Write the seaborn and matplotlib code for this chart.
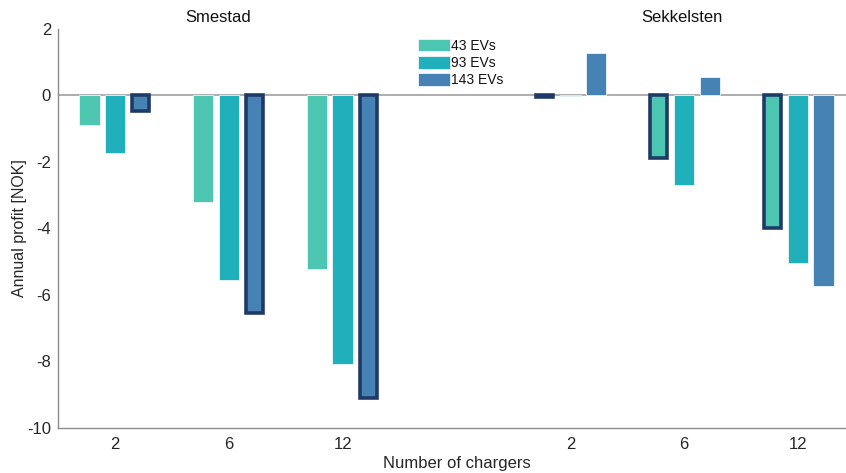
import matplotlib
matplotlib.use("Agg")
import matplotlib.pyplot as plt
import seaborn as sns
import pandas as pd

# Annual profit per site, number of chargers and EV fleet size
sites = ["Smestad"] * 9 + ["Sekkelsten"] * 9
chargers = [2, 2, 2, 6, 6, 6, 12, 12, 12] * 2
fleets = ["43 EVs", "93 EVs", "143 EVs"] * 6
profit = [-0.88, -1.73, -0.47,
          -3.22, -5.57, -6.55,
          -5.24, -8.10, -9.12,
          -0.06, -0.02, 1.28,
          -1.88, -2.70, 0.56,
          -4.00, -5.06, -5.75]
# best configuration per site and charger count
best = [False, False, True, False, False, True, False, False, True,
        True, False, False, True, False, False, True, False, False]

fleet_order = ["43 EVs", "93 EVs", "143 EVs"]
fleet_colors = ["#4cc6b1", "#20b0bc", "#4682b4"]
slot_order = ["Smestad 2", "Smestad 6", "Smestad 12", " ",
              "Sekkelsten 2", "Sekkelsten 6", "Sekkelsten 12"]
tick_labels = ["2", "6", "12", "", "2", "6", "12"]
site_titles = ["Smestad", "Sekkelsten"]

df = pd.DataFrame({
    "slot": [f"{s} {c}" for s, c in zip(sites, chargers)],
    "fleet": fleets,
    "profit": profit,
    "best": best,
})

sns.set_theme(style="white")
plt.rcParams["font.family"] = ["Liberation Sans", "DejaVu Sans"]
plt.rcParams["axes.unicode_minus"] = False

fig = plt.figure(figsize=(8.46, 4.73), dpi=100)
ax = fig.add_axes([58 / 846, (473 - 427.5) / 473, 797 / 846, 398.5 / 473])

ax.axhline(0, color="#a0a0a0", lw=1.2, zorder=0)

sns.barplot(data=df, x="slot", y="profit", hue="fleet", order=slot_order,
            hue_order=fleet_order, palette=fleet_colors, saturation=1,
            width=0.672, gap=0.2, edgecolor="#eef6f6", linewidth=0.6,
            errorbar=None, ax=ax, zorder=2)

# outline the best configurations
hl_lw = 3.6  # px
px_per_unit = 797 / 7.0
for _, row in df[df["best"]].iterrows():
    xi = slot_order.index(row["slot"])
    hi = fleet_order.index(row["fleet"])
    for p in ax.patches:
        cx = p.get_x() + p.get_width() / 2
        if abs(cx - (xi + (hi - 1) * 0.224)) < 0.05 and abs(p.get_height() - row["profit"]) < 1e-6:
            shrink = hl_lw / px_per_unit
            p.set_x(p.get_x() + shrink / 2)
            p.set_width(p.get_width() - shrink)
            p.set_edgecolor("#1f3a66")
            p.set_linewidth(hl_lw * 72 / 100)

ax.set_xlim(-0.5, 6.5)
ax.set_ylim(-10, 2)
ax.set_yticks([2, 0, -2, -4, -6, -8, -10])
ax.set_xticks([i for i, t in enumerate(tick_labels) if t])
ax.set_xticklabels([t for t in tick_labels if t])

for side in ["top", "right"]:
    ax.spines[side].set_visible(False)
for side in ["left", "bottom"]:
    ax.spines[side].set_color("#8c8c8c")
    ax.spines[side].set_linewidth(1.0)

ax.tick_params(axis="both", direction="in", length=5.5, width=0.8,
               color="#8c8c8c", labelsize=12, labelcolor="#262626")
ax.tick_params(axis="y", pad=5)
ax.tick_params(axis="x", pad=7)

ax.set_xlabel("Number of chargers", fontsize=12, color="#262626", labelpad=3)
ax.set_ylabel("Annual profit [NOK]", fontsize=11.5, color="#262626", labelpad=0)

ax.text(0.91, 2.35, site_titles[0], ha="center", va="center", fontsize=12,
        color="#111111", clip_on=False)
ax.text(4.98, 2.35, site_titles[1], ha="center", va="center", fontsize=12,
        color="#111111", clip_on=False)

leg = ax.legend(loc="upper left", bbox_to_anchor=((418 - 58) / 797, (427.5 - 39) / 398.5),
                frameon=False, fontsize=10, borderpad=0, borderaxespad=0,
                handlelength=2.3, handleheight=1.0, labelspacing=0.22,
                handletextpad=0.1)
for t in leg.get_texts():
    t.set_color("#111111")

fig.savefig("out.png", dpi=100)
